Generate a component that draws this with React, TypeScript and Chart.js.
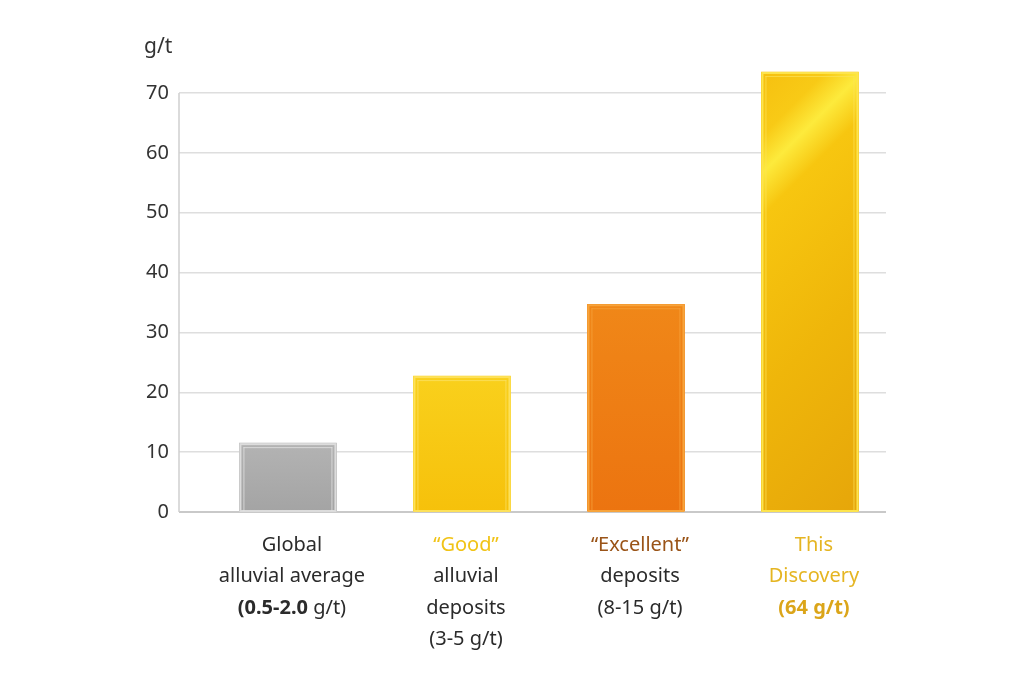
import { useEffect, useRef } from "react";
import { Chart, registerables } from "chart.js";

Chart.register(...registerables);

// --- data ---
const categories = ["Global", "Good", "Excellent", "This Discovery"];
const values = [11.5, 22.7, 34.7, 73.5];
const yTicks = [0, 10, 20, 30, 40, 50, 60, 70];
const unitLabel = "g/t";

// text under each bar, "**" toggles bold
const labelLines = [
  ["Global", "alluvial average", "**(0.5-2.0** g/t)"],
  ["“Good”", "alluvial", "deposits", "(3-5 g/t)"],
  ["“Excellent”", "deposits", "(8-15 g/t)"],
  ["This", "Discovery", "**(64 g/t)**"],
];

const DARK = "#2b2b2b";
const labelColors = [
  [DARK, DARK, DARK],
  ["#f1c316", DARK, DARK, DARK],
  ["#9a5418", DARK, DARK],
  ["#e5b522", "#e5b522", "#dba519"],
];

const FONT = "'Noto Sans', 'Open Sans', sans-serif";

// per-bar looks: gradient stops (direction), outline, inner line
const barStyles = [
  { stops: [[0, "#b3b3b3"], [1, "#a4a4a4"]], diag: false, edge: "#dcdcdc", inner: "#e8e8e8" },
  { stops: [[0, "#f9d01c"], [1, "#f6c10b"]], diag: false, edge: "#fde15a", inner: "#fbe36e" },
  { stops: [[0, "#f08718"], [1, "#ec7410"]], diag: false, edge: "#f7a43c", inner: "#f6a640" },
  {
    stops: [
      [0, "#f6c010"],
      [0.12, "#f8ca16"],
      [0.19, "#fdea3c"],
      [0.27, "#f7c610"],
      [0.6, "#efb60a"],
      [1, "#e6a60a"],
    ],
    diag: true,
    edge: "#fde44e",
    inner: "#fbe25a",
  },
];

const barPaint = {
  id: "barPaint",
  afterDatasetsDraw(chart: any) {
    const ctx = chart.ctx;
    const meta = chart.getDatasetMeta(0);
    meta.data.forEach((bar: any, i: number) => {
      const st = barStyles[i];
      const w = bar.width;
      const x0 = bar.x - w / 2;
      const top = bar.y;
      const h = bar.base - bar.y;
      ctx.save();
      let g;
      if (st.diag) {
        const d = (w + h) / 2;
        g = ctx.createLinearGradient(x0, top, x0 + d, top + d);
      } else {
        g = ctx.createLinearGradient(0, top, 0, top + h);
      }
      st.stops.forEach(([o, c]: any) => g.addColorStop(o, c));
      ctx.fillStyle = g;
      ctx.fillRect(x0, top, w, h);
      // outline
      ctx.strokeStyle = st.edge;
      ctx.lineWidth = 2;
      ctx.strokeRect(x0 + 1, top + 1, w - 2, h - 1);
      // inner highlight lines near the edges
      ctx.strokeStyle = st.inner;
      ctx.globalAlpha = 0.7;
      ctx.lineWidth = 1;
      ctx.beginPath();
      ctx.moveTo(x0 + 4.5, top + 4);
      ctx.lineTo(x0 + 4.5, top + h);
      ctx.moveTo(x0 + w - 4.5, top + 4);
      ctx.lineTo(x0 + w - 4.5, top + h);
      ctx.moveTo(x0 + 4, top + 4.5);
      ctx.lineTo(x0 + w - 4, top + 4.5);
      ctx.stroke();
      ctx.restore();
    });
  },
};

const decorations = {
  id: "decorations",
  afterDraw(chart: any) {
    const { ctx, chartArea, scales } = chart;
    const y = scales.y;
    const x = scales.x;
    ctx.save();
    // left axis line from top tick down to zero
    ctx.strokeStyle = "#cfcfcf";
    ctx.lineWidth = 1.5;
    ctx.beginPath();
    ctx.moveTo(chartArea.left, y.getPixelForValue(yTicks[yTicks.length - 1]));
    ctx.lineTo(chartArea.left, y.getPixelForValue(0));
    ctx.stroke();

    // unit above the axis
    ctx.fillStyle = "#333";
    ctx.font = `21px ${FONT}`;
    ctx.textAlign = "left";
    ctx.textBaseline = "middle";
    ctx.fillText(unitLabel, chartArea.left - 35, 47);

    // category labels
    ctx.textBaseline = "middle";
    ctx.textAlign = "left";
    labelLines.forEach((lines, i) => {
      const cx = x.getPixelForValue(i) + 4;
      lines.forEach((line, j) => {
        const parts = line.split("**");
        const segs = parts.map((t, k) => ({ t, bold: k % 2 === 1 })).filter((s) => s.t);
        let total = 0;
        segs.forEach((s) => {
          ctx.font = `${s.bold ? "bold " : ""}20px ${FONT}`;
          total += ctx.measureText(s.t).width;
        });
        let px = cx - total / 2;
        const py = chartArea.bottom + 33 + j * 31.5;
        ctx.fillStyle = labelColors[i][j];
        segs.forEach((s) => {
          ctx.font = `${s.bold ? "bold " : ""}20px ${FONT}`;
          ctx.fillText(s.t, px, py);
          px += ctx.measureText(s.t).width;
        });
      });
    });
    ctx.restore();
  },
};

export default function App() {
  const canvasRef = useRef<HTMLCanvasElement | null>(null);

  useEffect(() => {
    const canvas = canvasRef.current;
    if (!canvas) return;

    const chart = new Chart(canvas, {
      type: "bar",
      data: {
        datasets: [
          {
            label: "g/t",
            data: categories.map((_, i) => ({ x: i, y: values[i] })),
            backgroundColor: barStyles.map((s) => s.stops[0][1] as string),
            borderWidth: 0,
            barThickness: 97,
          },
        ],
      },
      options: {
        animation: false,
        responsive: true,
        maintainAspectRatio: false,
        layout: { padding: { left: 109, right: 138, top: 63, bottom: 171 } },
        plugins: {
          legend: { display: false },
          tooltip: { enabled: false },
        },
        scales: {
          x: {
            type: "linear",
            min: -0.626,
            max: 3.437,
            offset: false,
            display: false,
          },
          y: {
            min: 0,
            max: 75,
            afterBuildTicks: (scale: any) => {
              scale.ticks = yTicks.map((v) => ({ value: v }));
            },
            afterFit: (scale: any) => {
              scale.width = 70;
            },
            border: { display: false },
            grid: {
              drawTicks: false,
              color: (c: any) => (c.tick && c.tick.value === 0 ? "#c9c9c9" : "#dedede"),
              lineWidth: (c: any) => (c.tick && c.tick.value === 0 ? 2 : 1.5),
            },
            ticks: {
              padding: 10,
              color: "#333",
              font: { family: FONT, size: 20 },
            },
          },
        },
      },
      plugins: [barPaint, decorations],
    });

    return () => {
      chart.destroy();
    };
  }, []);

  return (
    <div style={{ position: "absolute", left: 0, top: 0, width: 1024, height: 683, background: "#fff" }}>
      <canvas ref={canvasRef}></canvas>
    </div>
  );
}
